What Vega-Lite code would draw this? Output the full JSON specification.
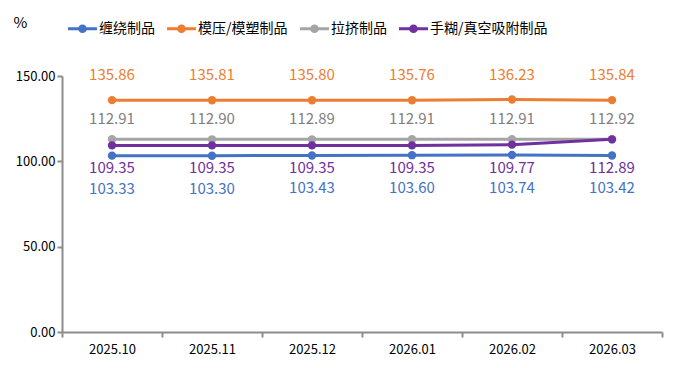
{
  "$schema": "https://vega.github.io/schema/vega-lite/v6.json",
  "width": 600,
  "height": 256,
  "autosize": {"type": "none"},
  "padding": {"left": 62, "top": 76, "right": 11, "bottom": 36},
  "background": "white",
  "config": {"view": {"stroke": null}, "font": "Noto Sans CJK SC"},
  "data": {
    "values": [
      {"month": "2025.10", "series": "缠绕制品", "value": 103.33},
      {"month": "2025.11", "series": "缠绕制品", "value": 103.30},
      {"month": "2025.12", "series": "缠绕制品", "value": 103.43},
      {"month": "2026.01", "series": "缠绕制品", "value": 103.60},
      {"month": "2026.02", "series": "缠绕制品", "value": 103.74},
      {"month": "2026.03", "series": "缠绕制品", "value": 103.42},
      {"month": "2025.10", "series": "模压/模塑制品", "value": 135.86},
      {"month": "2025.11", "series": "模压/模塑制品", "value": 135.81},
      {"month": "2025.12", "series": "模压/模塑制品", "value": 135.80},
      {"month": "2026.01", "series": "模压/模塑制品", "value": 135.76},
      {"month": "2026.02", "series": "模压/模塑制品", "value": 136.23},
      {"month": "2026.03", "series": "模压/模塑制品", "value": 135.84},
      {"month": "2025.10", "series": "拉挤制品", "value": 112.91},
      {"month": "2025.11", "series": "拉挤制品", "value": 112.90},
      {"month": "2025.12", "series": "拉挤制品", "value": 112.89},
      {"month": "2026.01", "series": "拉挤制品", "value": 112.91},
      {"month": "2026.02", "series": "拉挤制品", "value": 112.91},
      {"month": "2026.03", "series": "拉挤制品", "value": 112.92},
      {"month": "2025.10", "series": "手糊/真空吸附制品", "value": 109.35},
      {"month": "2025.11", "series": "手糊/真空吸附制品", "value": 109.35},
      {"month": "2025.12", "series": "手糊/真空吸附制品", "value": 109.35},
      {"month": "2026.01", "series": "手糊/真空吸附制品", "value": 109.35},
      {"month": "2026.02", "series": "手糊/真空吸附制品", "value": 109.77},
      {"month": "2026.03", "series": "手糊/真空吸附制品", "value": 112.89}
    ]
  },
  "encoding": {
    "x": {
      "field": "month", "type": "ordinal",
      "scale": {"paddingInner": 0, "paddingOuter": 0},
      "axis": {
        "title": null, "labelAngle": 0, "labelFontSize": 13, "labelColor": "#000000",
        "labelFont": "Noto Sans CJK SC", "labelPadding": 6,
        "domainColor": "#8c8c8c", "domainWidth": 2, "tickColor": "#8c8c8c", "tickWidth": 2,
        "tickSize": 5, "tickBand": "extent", "grid": false
      }
    },
    "y": {
      "field": "value", "type": "quantitative",
      "scale": {"domain": [0, 150], "nice": false},
      "axis": {
        "values": [0, 50, 100, 150], "format": ".2f", "grid": false,
        "labelFontSize": 13, "labelColor": "#000000", "labelFont": "Noto Sans CJK SC",
        "domainColor": "#8c8c8c", "domainWidth": 2, "tickColor": "#8c8c8c", "tickWidth": 2, "tickSize": 5,
        "title": "%", "titleAngle": 0, "titleX": -42, "titleY": -54, "titleAlign": "center",
        "titleBaseline": "middle", "titleFontSize": 15, "titleFontWeight": "normal", "titleColor": "#000000"
      }
    },
    "color": {
      "field": "series", "type": "nominal",
      "scale": {
        "domain": ["缠绕制品", "模压/模塑制品", "拉挤制品", "手糊/真空吸附制品"],
        "range": ["#4472C4", "#ED7D31", "#A5A5A5", "#7030A0"]
      },
      "legend": {
        "title": null, "orient": "none", "direction": "horizontal",
        "legendX": 6, "legendY": -62,
        "symbolType": "M-1,-0.11 L1,-0.11 L1,0.11 L-1,0.11 Z M-0.3,0 A0.3,0.3 0 1,1 0.3,0 A0.3,0.3 0 1,1 -0.3,0 Z",
        "symbolSize": 840, "symbolStrokeWidth": 0, "symbolOpacity": 1,
        "labelFontSize": 14, "labelColor": "#000000", "labelFont": "Noto Sans CJK SC",
        "labelOffset": 2, "columnPadding": 12, "labelLimit": 200,
        "encode": {"symbols": {"update": {"fill": {"scale": "color", "field": "value"}, "strokeWidth": {"value": 0}}}}
      }
    }
  },
  "layer": [
    {
      "mark": {"type": "line", "strokeWidth": 3, "point": {"filled": true, "size": 70, "opacity": 1}}
    },
    {
      "transform": [{"filter": "datum.series === '模压/模塑制品'"}],
      "mark": {"type": "text", "dy": -25, "fontSize": 15, "baseline": "middle"},
      "encoding": {"text": {"field": "value", "type": "quantitative", "format": ".2f"}}
    },
    {
      "transform": [{"filter": "datum.series === '拉挤制品'"}],
      "mark": {"type": "text", "dy": -20, "fontSize": 15, "baseline": "middle"},
      "encoding": {"text": {"field": "value", "type": "quantitative", "format": ".2f"}, "color": {"value": "#7F7F7F"}}
    },
    {
      "transform": [{"filter": "datum.series === '手糊/真空吸附制品' && datum.month !== '2026.03'"}],
      "mark": {"type": "text", "dy": 23, "fontSize": 15, "baseline": "middle"},
      "encoding": {"text": {"field": "value", "type": "quantitative", "format": ".2f"}}
    },
    {
      "transform": [{"filter": "datum.series === '手糊/真空吸附制品' && datum.month === '2026.03'"}],
      "mark": {"type": "text", "dy": 29, "fontSize": 15, "baseline": "middle"},
      "encoding": {"text": {"field": "value", "type": "quantitative", "format": ".2f"}}
    },
    {
      "transform": [{"filter": "datum.series === '缠绕制品'"}],
      "mark": {"type": "text", "dy": 33, "fontSize": 15, "baseline": "middle"},
      "encoding": {"text": {"field": "value", "type": "quantitative", "format": ".2f"}}
    }
  ]
}
